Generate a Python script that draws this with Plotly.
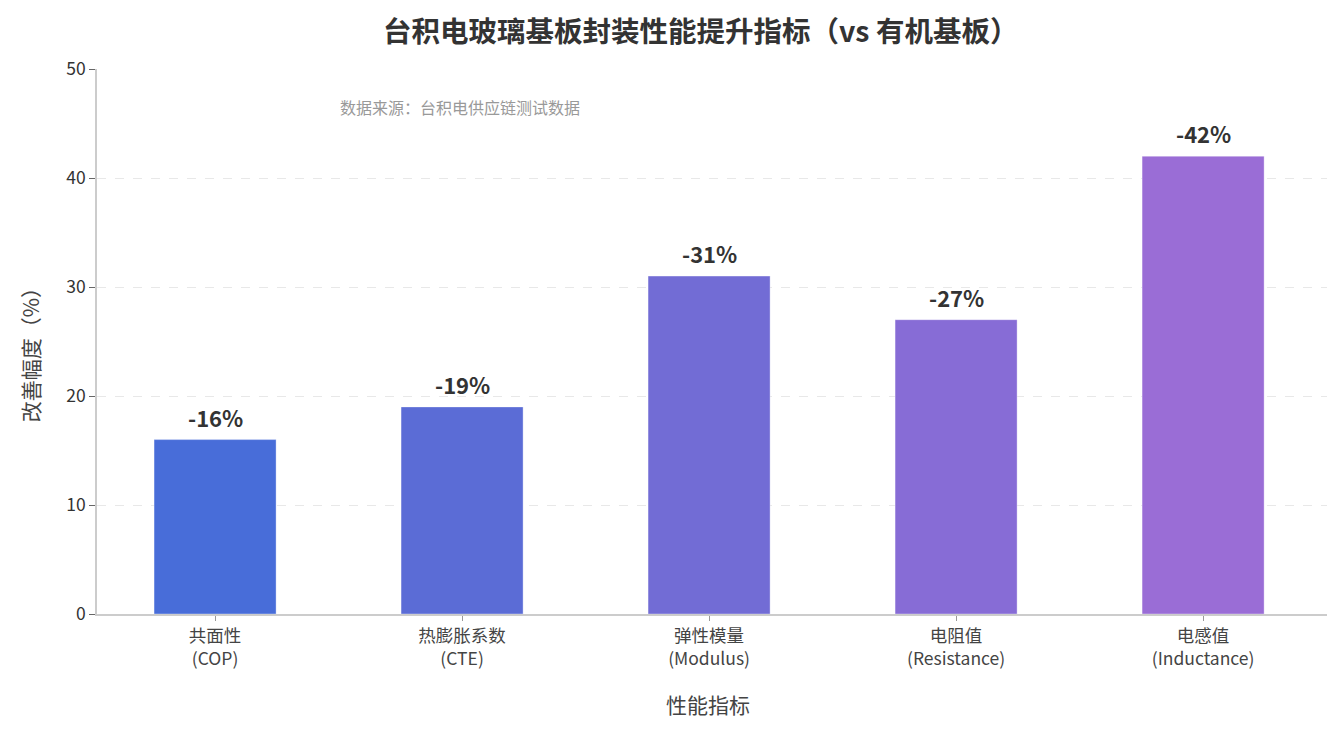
import plotly.graph_objects as go

categories = ["共面性<br>(COP)", "热膨胀系数<br>(CTE)", "弹性模量<br>(Modulus)",
              "电阻值<br>(Resistance)", "电感值<br>(Inductance)"]
improvement = [16, 19, 31, 27, 42]
labels = ["-16%", "-19%", "-31%", "-27%", "-42%"]
bar_colors = ["#486dd9", "#5b6cd6", "#726cd5", "#876cd6", "#9a6dd6"]

font = "Noto Sans CJK SC"

fig = go.Figure()
fig.add_trace(go.Bar(
    x=categories, y=improvement,
    marker=dict(color=bar_colors, line=dict(width=1, color="rgba(255,255,255,0.35)")),
    width=0.494, hoverinfo="x+y",
))

# value labels above the bars
for c, v, t in zip(categories, improvement, labels):
    fig.add_annotation(x=c, y=v, text="<b>" + t + "</b>", showarrow=False,
                       yanchor="middle", yshift=23,
                       font=dict(size=22, color="#333333", family=font))

fig.add_annotation(text="数据来源：台积电供应链测试数据", xref="paper", yref="paper",
                   x=0.1947, y=0.930, xanchor="left", yanchor="middle", showarrow=False,
                   font=dict(size=16, color="#999999", family=font))
fig.add_annotation(text="改善幅度（%）", xref="paper", yref="paper",
                   x=-0.054, y=0.484, textangle=-90, showarrow=False,
                   xanchor="center", yanchor="middle",
                   font=dict(size=21, color="#444444", family=font))
fig.add_annotation(text="性能指标", xref="paper", yref="paper",
                   x=0.4935, y=-0.165, showarrow=False,
                   xanchor="center", yanchor="middle",
                   font=dict(size=21, color="#444444", family=font))

fig.update_layout(
    width=1327, height=727,
    margin=dict(l=89, r=0, t=61, b=121, autoexpand=False),
    paper_bgcolor="white", plot_bgcolor="white",
    font=dict(family=font, color="#333333"),
    showlegend=False,
    title=dict(text="<b>台积电玻璃基板封装性能提升指标（vs 有机基板）</b>",
               x=0.522, xanchor="center", y=0.967, yanchor="middle",
               font=dict(size=28.5, color="#333333", family=font)),
)

fig.update_xaxes(
    range=[-0.478, 4.534], showline=True, linecolor="#cccccc", linewidth=1.5,
    ticks="outside", tickcolor="#999999", ticklen=5, automargin=False,
    tickfont=dict(size=17.5, color="#444444"),
)
fig.update_yaxes(
    range=[0, 50], dtick=10, showline=True, linecolor="#cccccc", linewidth=1.5,
    ticks="outside", tickcolor="#666666", ticklen=6, automargin=False,
    tickfont=dict(size=17.5, color="#333333"),
    showgrid=True, gridcolor="#e8e8e8", griddash="dash", gridwidth=1,
    zeroline=False,
)

fig.write_html("out.html")
